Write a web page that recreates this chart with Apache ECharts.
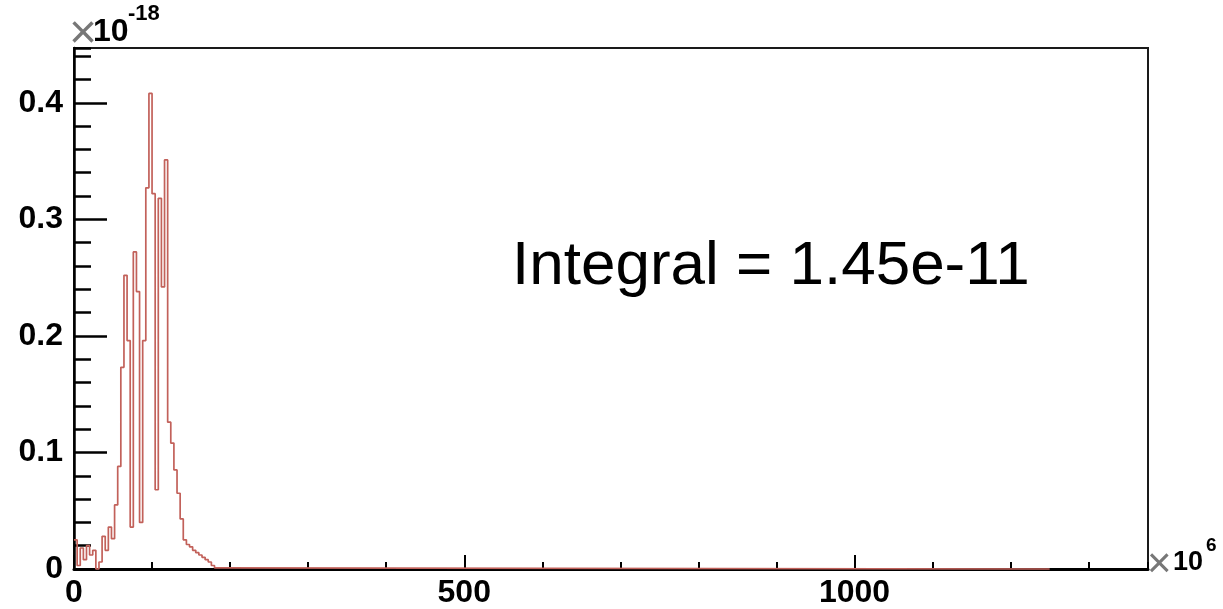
<!DOCTYPE html>
<html>
<head>
<meta charset="utf-8">
<script src="https://cdn.jsdelivr.net/npm/echarts@6/dist/echarts.min.js"></script>
<style>
  html, body { margin: 0; padding: 0; background: #ffffff; }
  #chart { width: 1223px; height: 609px; }
</style>
</head>
<body>
<div id="chart"></div>
<script>
// Histogram binning (x in units of 1e6)
const binWidth = 4;
const histogramEnd = 1250;

// Bin contents, first bin starting at 0 (units of 1e-18)
const binContents = [
  0.025, 0.003, 0.018, 0.008, 0.020, 0.012, 0.016, 0.000, 0.006, 0.028,
  0.016, 0.036, 0.026, 0.055, 0.088, 0.173, 0.252, 0.196, 0.036, 0.272,
  0.238, 0.040, 0.196, 0.327, 0.408, 0.322, 0.068, 0.318, 0.242, 0.351,
  0.126, 0.108, 0.085, 0.065, 0.043, 0.025, 0.021, 0.019, 0.016, 0.014,
  0.012, 0.010, 0.008, 0.006, 0.003, 0.001
];

// Axis ranges and tick spacing
const xRange = [0, 1376];
const xMajorStep = 500;
const xMinorStep = 100;
const yRange = [0, 0.447];
const yMajorStep = 0.1;
const yMinorStep = 0.02;

const integralText = 'Integral = 1.45e-11';

// Step outline points: each bin drawn from its lower edge
const outline = binContents.map((v, i) => [i * binWidth, v]);
outline.push([binContents.length * binWidth, 0]);
outline.push([histogramEnd, 0]);

const FONT = '"Liberation Sans", Arial, Helvetica, sans-serif';

const chart = echarts.init(document.getElementById('chart'), null, { renderer: 'canvas' });

const labelStyle = {
  fontFamily: FONT, fontWeight: 'bold', fontSize: 32, color: '#000'
};

chart.setOption({
  animation: false,
  backgroundColor: '#ffffff',
  grid: {
    left: 74, right: 75, top: 48, bottom: 39,
    show: true, borderColor: '#1a1a1a', borderWidth: 2, backgroundColor: 'transparent'
  },
  xAxis: [
    {
      type: 'value', min: xRange[0], max: xRange[1], interval: xMajorStep,
      position: 'bottom',
      axisLine: { show: true, onZero: false, lineStyle: { color: '#000', width: 3 } },
      axisTick: { show: true, inside: true, length: 14, lineStyle: { color: '#000', width: 2 } },
      axisLabel: Object.assign({ margin: 8, showMaxLabel: false, formatter: v => String(v) }, labelStyle),
      splitLine: { show: false }
    },
    {
      type: 'value', min: xRange[0], max: xRange[1], interval: xMinorStep,
      position: 'bottom',
      axisLine: { show: false },
      axisTick: { show: true, inside: true, length: 7, lineStyle: { color: '#000', width: 2 } },
      axisLabel: { show: false },
      splitLine: { show: false }
    }
  ],
  yAxis: [
    {
      type: 'value', min: yRange[0], max: yRange[1], interval: yMajorStep,
      position: 'left',
      axisLine: { show: true, onZero: false, lineStyle: { color: '#000', width: 2.5 } },
      axisTick: { show: true, inside: true, length: 33, lineStyle: { color: '#000', width: 2.5 } },
      axisLabel: Object.assign({ margin: 11, showMaxLabel: false }, labelStyle),
      splitLine: { show: false }
    },
    {
      type: 'value', min: yRange[0], max: yRange[1], interval: yMinorStep,
      position: 'left',
      axisLine: { show: false },
      axisTick: { show: true, inside: true, length: 17, lineStyle: { color: '#000', width: 2.5 } },
      axisLabel: { show: false },
      splitLine: { show: false }
    }
  ],
  series: [
    {
      type: 'line',
      xAxisIndex: 0, yAxisIndex: 0,
      data: outline,
      step: 'end',
      showSymbol: false,
      symbol: 'none',
      clip: false,
      lineStyle: { color: '#c2615a', width: 1.7 },
      z: 5
    }
  ],
  graphic: [
    // exponent of the y axis
    { type: 'text', left: 69, top: 11, style: { text: '\u00d7', font: '48px ' + FONT, fill: '#777' } },
    { type: 'text', left: 93, top: 16, style: { text: '10', font: 'bold 32px ' + FONT, fill: '#000' } },
    { type: 'text', left: 128, top: 3, style: { text: '-18', font: 'bold 22px ' + FONT, fill: '#000' } },
    // exponent of the x axis
    { type: 'text', left: 1147, top: 544, style: { text: '\u00d7', font: '42px ' + FONT, fill: '#777' } },
    { type: 'text', left: 1173, top: 549, style: { text: '10', font: 'bold 27px ' + FONT, fill: '#000' } },
    { type: 'text', left: 1206, top: 536, style: { text: '6', font: 'bold 19px ' + FONT, fill: '#000' } },
    // integral annotation
    { type: 'text', left: 512, top: 236, style: { text: integralText, font: '62px ' + FONT, fill: '#000' } }
  ]
});
</script>
</body>
</html>
